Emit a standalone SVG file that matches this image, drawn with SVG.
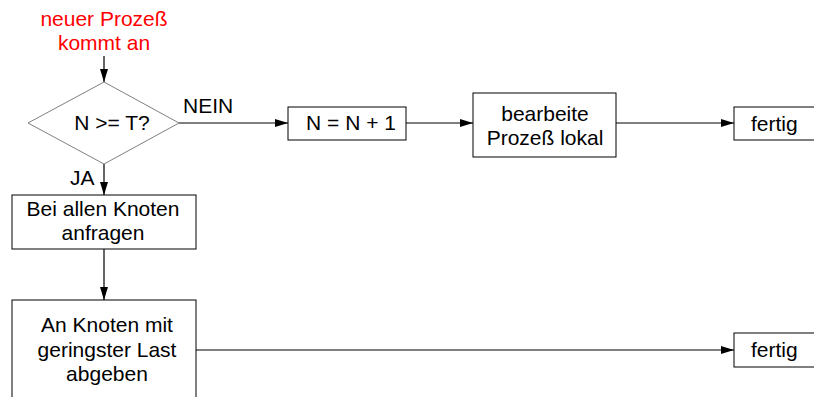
<svg xmlns="http://www.w3.org/2000/svg" width="814" height="397" viewBox="0 0 814 397">
<style>
text{font-family:"Liberation Sans",Arial,sans-serif;font-size:21px;fill:#000}
.c{text-anchor:middle}
.red{fill:#ff0000}
.box{fill:#fff;stroke:#000;stroke-width:1}
.dia{fill:#fff;stroke:#808080;stroke-width:1}
.ln{fill:none;stroke:#000;stroke-width:1.2}
</style>
<defs>
<marker id="ah" markerWidth="13" markerHeight="8" refX="13" refY="4" orient="auto" markerUnits="userSpaceOnUse">
<path d="M0,0 L13,4 L0,8 Z" fill="#000"/>
</marker>
</defs>
<g id="connectors">
<line class="ln" x1="104" y1="56" x2="104" y2="82" marker-end="url(#ah)"/>
<line class="ln" x1="179" y1="123" x2="288" y2="123" marker-end="url(#ah)"/>
<line class="ln" x1="406" y1="123" x2="473" y2="123" marker-end="url(#ah)"/>
<line class="ln" x1="616" y1="123" x2="734" y2="123" marker-end="url(#ah)"/>
<line class="ln" x1="104" y1="164" x2="104" y2="195" marker-end="url(#ah)"/>
<line class="ln" x1="104" y1="249" x2="104" y2="300" marker-end="url(#ah)"/>
<line class="ln" x1="196" y1="350" x2="734" y2="350" marker-end="url(#ah)"/>
<text x="183" y="113">NEIN</text>
<text x="70" y="185">JA</text>
</g>
<g id="start">
<text class="c red" x="104" y="26">neuer Prozeß</text>
<text class="c red" x="104" y="50">kommt an</text>
</g>
<g id="decision">
<polygon class="dia" points="104,82 179,123 104,164 28,123"/>
<text class="c" x="112" y="130">N &gt;= T?</text>
</g>
<g id="increment">
<rect class="box" x="288" y="107" width="118" height="33"/>
<text class="c" x="351" y="130">N = N + 1</text>
</g>
<g id="local">
<rect class="box" x="473" y="93" width="143" height="64"/>
<text class="c" x="545" y="121">bearbeite</text>
<text class="c" x="545" y="145">Prozeß lokal</text>
</g>
<g id="done1">
<rect class="box" x="734" y="107" width="100" height="33"/>
<text x="751" y="131">fertig</text>
</g>
<g id="query">
<rect class="box" x="12" y="195" width="184" height="54"/>
<text class="c" x="103" y="216">Bei allen Knoten</text>
<text class="c" x="103" y="240">anfragen</text>
</g>
<g id="delegate">
<rect class="box" x="12" y="300" width="184" height="110"/>
<text class="c" x="107" y="332">An Knoten mit</text>
<text class="c" x="107" y="357">geringster Last</text>
<text class="c" x="107" y="381">abgeben</text>
</g>
<g id="done2">
<rect class="box" x="734" y="333" width="100" height="34"/>
<text x="751" y="357">fertig</text>
</g>
</svg>
